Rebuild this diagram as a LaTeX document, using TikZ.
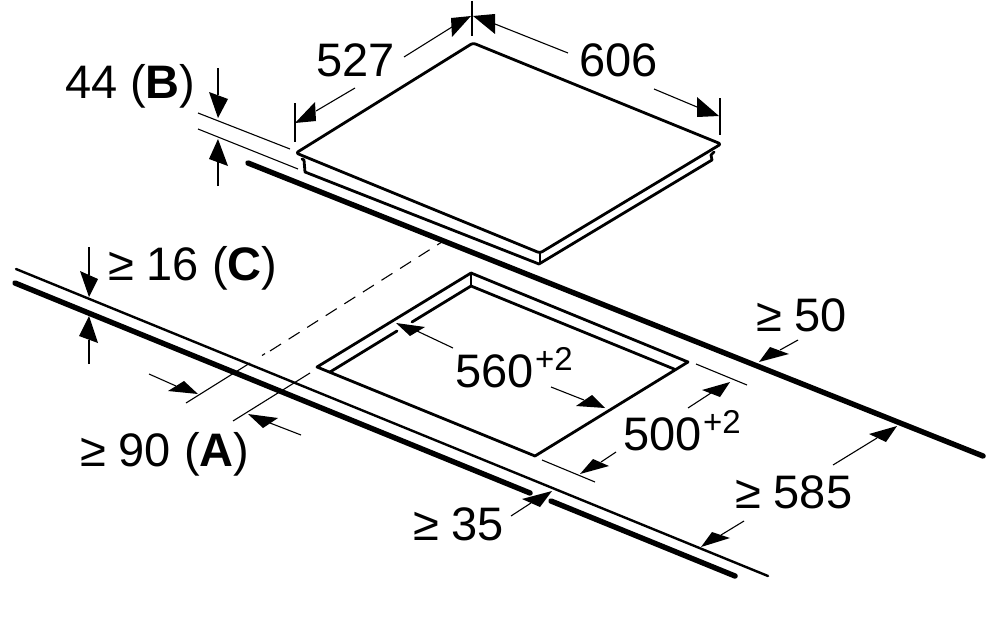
\documentclass[tikz,border=0pt]{standalone}
\usepackage{fontspec}
\setmainfont{Liberation Sans}
\tikzset{
  x=1pt,y=-1pt,
  thinl/.style={line width=1.1pt,black},
  medl/.style={line width=2.8pt,black,line cap=round,line join=round},
  heavy/.style={line width=5.4pt,black,line cap=round},
  lbl/.style={anchor=base west,inner sep=0pt,outer sep=0pt,font=\fontsize{47}{47}\selectfont},
  supl/.style={anchor=base west,inner sep=0pt,outer sep=0pt,font=\fontsize{33}{33}\selectfont},
  headfill/.style={fill=black,draw=none}
}
\newcommand{\dimarrow}[5]{% tail, base point, tip, b1, b2
  \draw[thinl] #1 -- #2;
  \fill[headfill] #3 -- #4 -- #5 -- cycle;}
\begin{document}
\begin{tikzpicture}
\useasboundingbox (0,0) rectangle (1000,618);
\fill[white] (0,0) rectangle (1000,618);
% worktop lines
\draw[heavy] (248,163) -- (983,456);
\draw[line width=2.4pt,line cap=round] (16,269) -- (768,576);
\draw[heavy] (15,283) -- (530,493);
\draw[heavy] (551,501) -- (735,576);
% hob
\draw[medl,rounded corners=2.5pt,fill=white] (296,153) -- (473,43) -- (721,144) -- (540,253) -- cycle;
\draw[medl] (302,159) -- (304,160) -- (305,172) -- (539,264) -- (712,160) -- (711,155) -- (714,152);
\draw[line width=1.4pt] (540,253) -- (540,264);
% extension lines
\draw[thinl] (472,1) -- (472,36);
\draw[thinl] (720,98) -- (720,135);
\draw[thinl] (295,103) -- (295,142);
\draw[thinl] (198,113) -- (290,149);
\draw[thinl] (198,129) -- (298,169);
\draw[thinl] (186,403) -- (250,363);
\draw[thinl] (262,355.5) -- (265,353.6);
\draw[thinl,dash pattern=on 13pt off 9pt] (270,351) -- (445,240);
\draw[thinl] (233,421) -- (310,373);
\draw[thinl] (696,364) -- (747,385);
\draw[thinl] (542,460) -- (595,482);
% cut-out
\draw[medl] (471,273) -- (317,367) -- (535,456) -- (688,362) -- cycle;
\draw[medl] (330,372) -- (397,331);
\draw[medl] (412,322) -- (471,286) -- (674,369);
\draw[line width=1.4pt] (471,273) -- (471,286);
% dimension arrows
\dimarrow{(404,57)}{(452,27)}{(471,16)}{(451,18)}{(452,37)}
\dimarrow{(355,88)}{(316,111)}{(295,123)}{(315,102)}{(316,121)}
\dimarrow{(568,53)}{(495,24)}{(473,16)}{(495,14)}{(495,34)}
\dimarrow{(654,89)}{(697,107)}{(719,116)}{(697,97)}{(697,117)}
\dimarrow{(218,68)}{(218,95)}{(218,118)}{(209,92)}{(228,99)}
\dimarrow{(218,186)}{(218,162)}{(218,139)}{(209,159)}{(228,166)}
\dimarrow{(89,247)}{(89,275)}{(89,297)}{(80,271)}{(98,279)}
\dimarrow{(89,364)}{(89,340)}{(89,316)}{(79,336)}{(98,343)}
\dimarrow{(149,374)}{(176,386)}{(198,394)}{(168,391)}{(184,381)}
\dimarrow{(301,435)}{(270,423)}{(248,414)}{(263,428)}{(278,418)}
\dimarrow{(453,348)}{(417,331)}{(396,323)}{(410,336)}{(425,327)}
\dimarrow{(551,387)}{(584,400)}{(605,408)}{(576,406)}{(592,395)}
\dimarrow{(688,408)}{(711,393)}{(730,382)}{(702,390)}{(720,397)}
\dimarrow{(616,452)}{(601,462)}{(580,474)}{(593,459)}{(609,466)}
\dimarrow{(798,340)}{(780,350)}{(759,362)}{(770,347)}{(789,354)}
\dimarrow{(744,521)}{(721,535)}{(701,547)}{(712,532)}{(730,538)}
\dimarrow{(511,516)}{(531,503)}{(552,491)}{(522,499)}{(540,507)}
\dimarrow{(833,465)}{(877,438)}{(897,426)}{(869,434)}{(886,442)}
% labels
\node[lbl] (t527) at (316,77) {527};
\node[lbl] (t606) at (579,77) {606};
\node[lbl] (t44) at (65,98) {44 (\textbf{B})};
\node[lbl] (t16) at (108,280) {≥ 16 (\textbf{C})};
\node[lbl] (t90) at (80,466) {≥ 90 (\textbf{A})};
\node[lbl] (t560) at (455,387) {560};
\node[supl] (s560) at (535,370) {+2};
\node[lbl] (t500) at (623,450) {500};
\node[supl] (s500) at (703,433) {+2};
\node[lbl] (t50) at (756,331) {≥ 50};
\node[lbl] (t585) at (735,508) {≥ 585};
\node[lbl] (t35) at (413,540) {≥ 35};
\end{tikzpicture}
\end{document}
